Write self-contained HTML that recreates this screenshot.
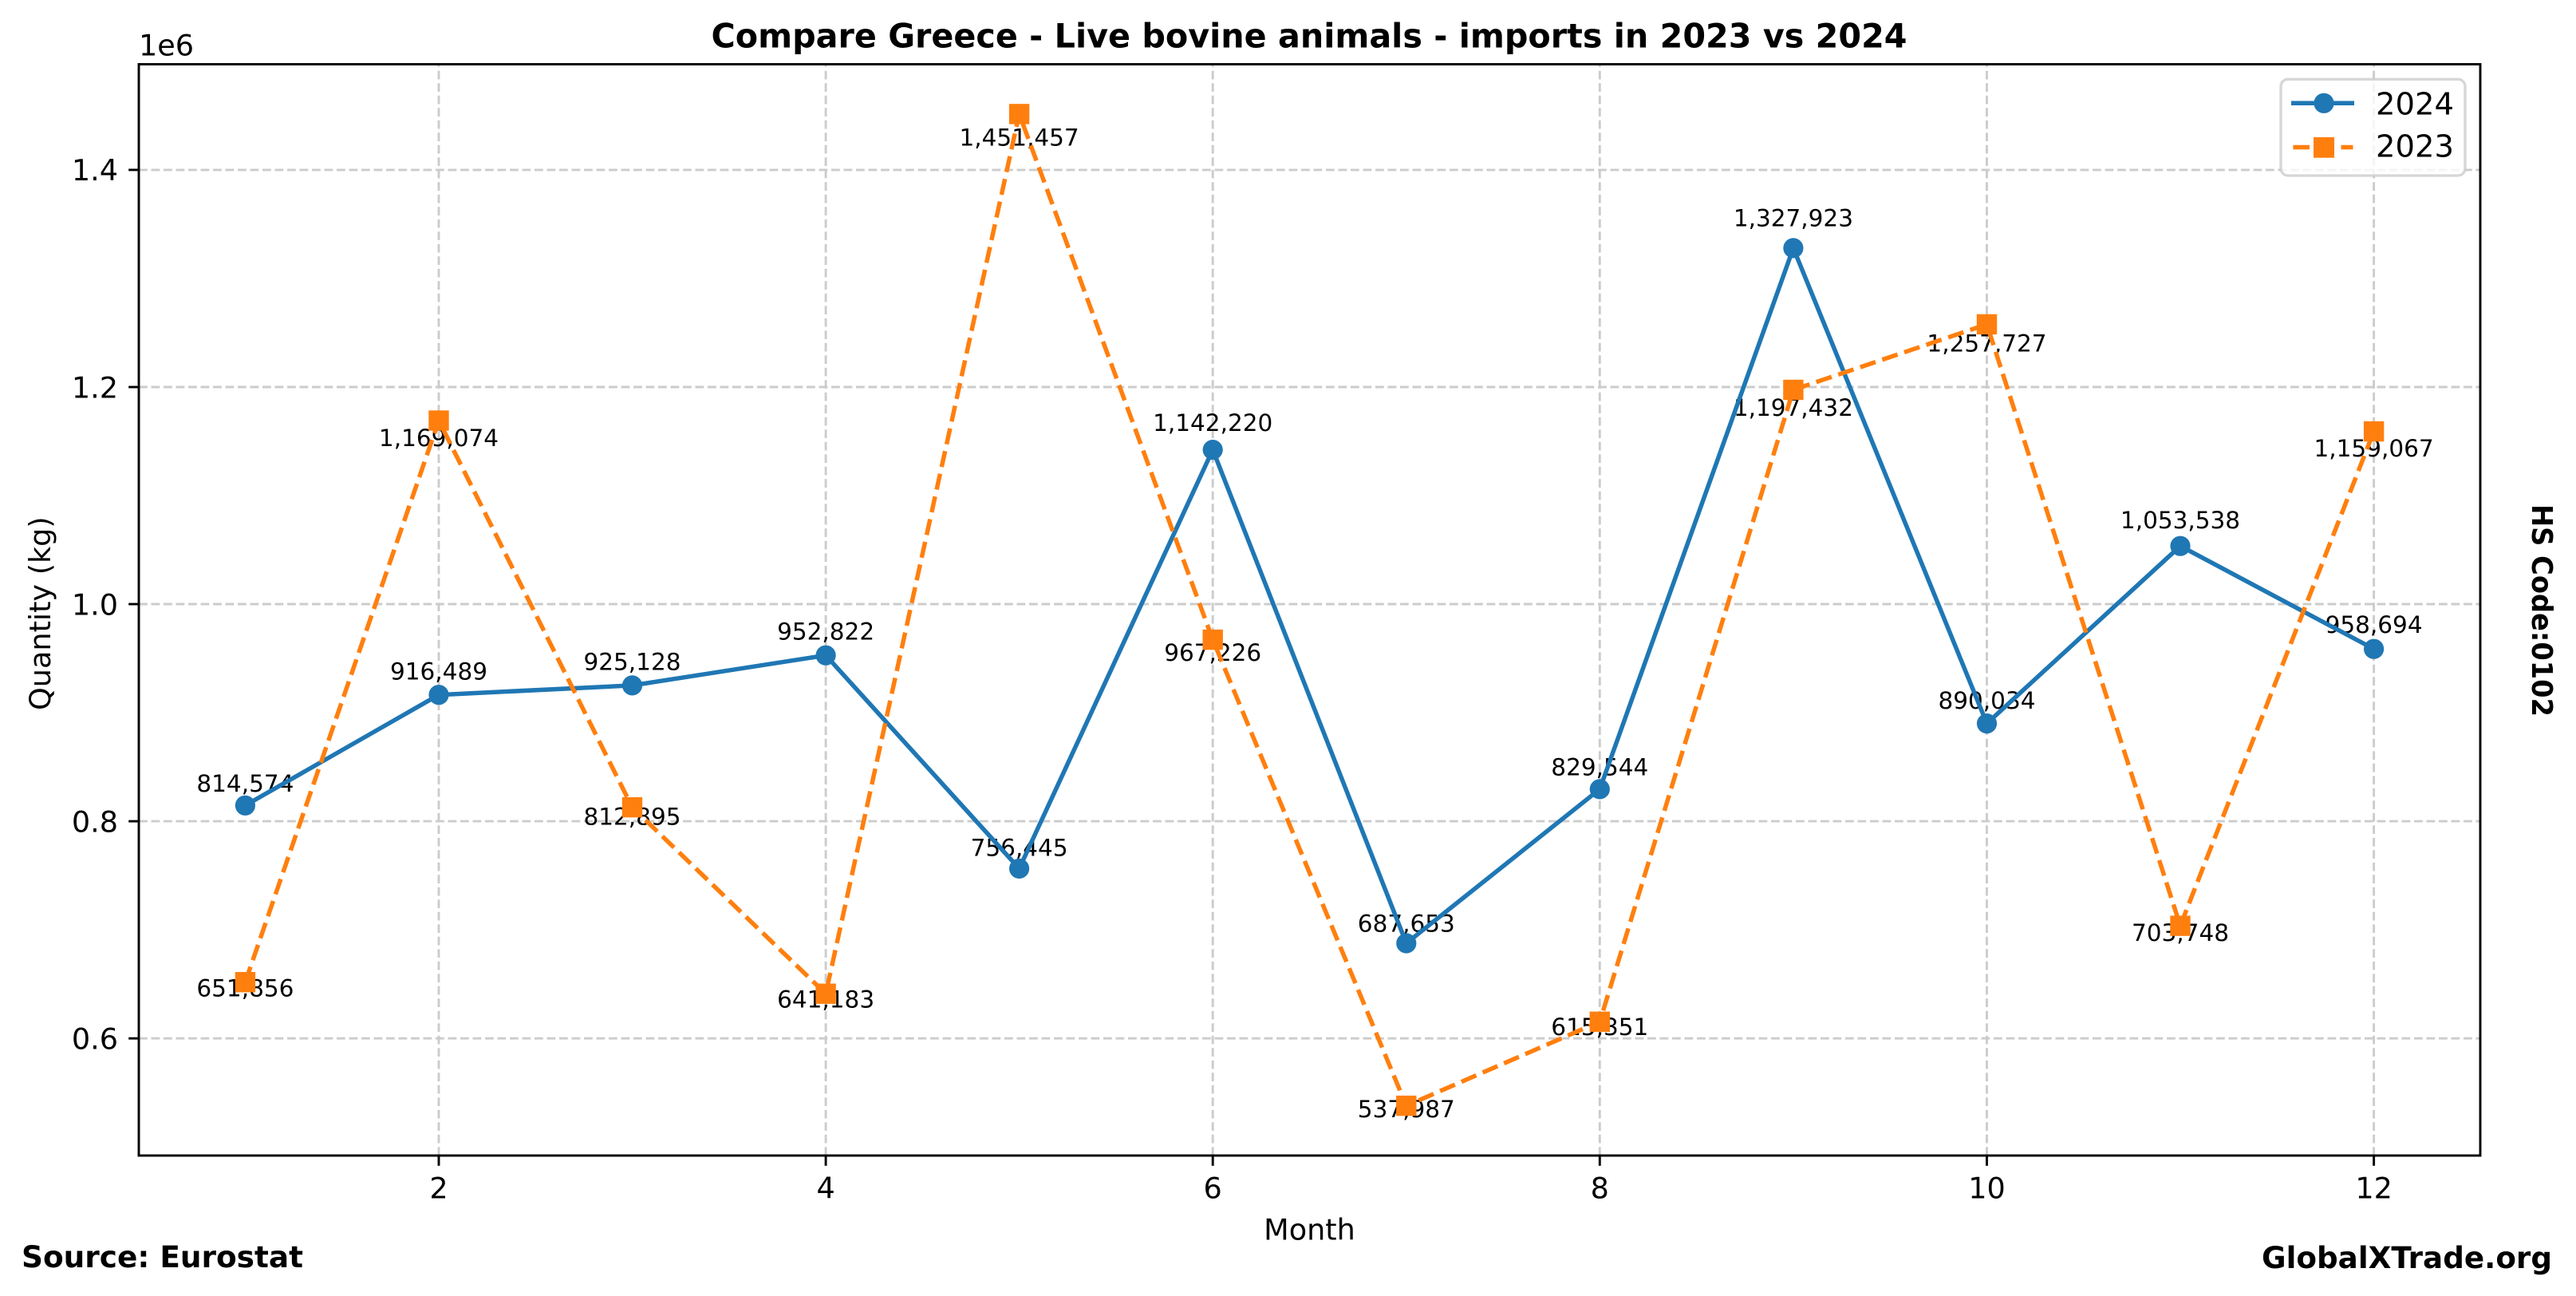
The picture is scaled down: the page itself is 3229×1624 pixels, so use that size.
<!DOCTYPE html>
<html>
<head>
<meta charset="utf-8">
<style>
html,body{margin:0;padding:0;background:#fff;}
svg{display:block;}
text{font-family:"DejaVu Sans","Liberation Sans",sans-serif;fill:#000;}
</style>
</head>
<body>
<svg width="3229" height="1624" viewBox="0 0 3229 1624" xmlns="http://www.w3.org/2000/svg">
<rect x="0" y="0" width="3229" height="1624" fill="#fff"/>

<!-- grid -->
<g stroke="#cccccc" stroke-width="2.9" stroke-dasharray="10.8 4.7" fill="none">
  <line x1="174" y1="1301.2" x2="3109" y2="1301.2"/>
  <line x1="174" y1="1029.1" x2="3109" y2="1029.1"/>
  <line x1="174" y1="757.0" x2="3109" y2="757.0"/>
  <line x1="174" y1="485.0" x2="3109" y2="485.0"/>
  <line x1="174" y1="212.9" x2="3109" y2="212.9"/>
  <line x1="550.0" y1="1448" x2="550.0" y2="80.5"/>
  <line x1="1035.1" y1="1448" x2="1035.1" y2="80.5"/>
  <line x1="1520.2" y1="1448" x2="1520.2" y2="80.5"/>
  <line x1="2005.3" y1="1448" x2="2005.3" y2="80.5"/>
  <line x1="2490.5" y1="1448" x2="2490.5" y2="80.5"/>
  <line x1="2975.6" y1="1448" x2="2975.6" y2="80.5"/>
</g>

<!-- data labels -->
<g font-size="29.5" text-anchor="middle">
  <text x="307.4" y="992.2">814,574</text>
  <text x="550.0" y="851.5">916,489</text>
  <text x="792.5" y="839.5">925,128</text>
  <text x="1035.1" y="801.3">952,822</text>
  <text x="1277.6" y="1072.5">756,445</text>
  <text x="1520.2" y="539.8">1,142,220</text>
  <text x="1762.8" y="1167.5">687,653</text>
  <text x="2005.3" y="971.5">829,544</text>
  <text x="2247.9" y="283.3">1,327,923</text>
  <text x="2490.5" y="887.9">890,034</text>
  <text x="2733.0" y="662.2">1,053,538</text>
  <text x="2975.6" y="793.1">958,694</text>

  <text x="307.4" y="1248.4">651,856</text>
  <text x="550.0" y="558.8">1,169,074</text>
  <text x="792.5" y="1033.7">812,895</text>
  <text x="1035.1" y="1262.6">641,183</text>
  <text x="1277.6" y="182.4">1,451,457</text>
  <text x="1520.2" y="827.9">967,226</text>
  <text x="1762.8" y="1400.2">537,987</text>
  <text x="2005.3" y="1297.0">615,351</text>
  <text x="2247.9" y="521.1">1,197,432</text>
  <text x="2490.5" y="440.6">1,257,727</text>
  <text x="2733.0" y="1179.2">703,748</text>
  <text x="2975.6" y="572.1">1,159,067</text>
</g>

<!-- 2024 series -->
<polyline fill="none" stroke="#1f77b4" stroke-width="5.5" stroke-linejoin="round" stroke-linecap="square"
  points="307.4,1009.3 550.0,870.7 792.5,858.9 1035.1,821.2 1277.6,1088.4 1520.2,563.6 1762.8,1182.0 2005.3,988.9 2247.9,310.9 2490.5,906.6 2733.0,684.2 2975.6,813.2"/>
<g fill="#1f77b4">
  <circle cx="307.4" cy="1009.3" r="12.6"/>
  <circle cx="550.0" cy="870.7" r="12.6"/>
  <circle cx="792.5" cy="858.9" r="12.6"/>
  <circle cx="1035.1" cy="821.2" r="12.6"/>
  <circle cx="1277.6" cy="1088.4" r="12.6"/>
  <circle cx="1520.2" cy="563.6" r="12.6"/>
  <circle cx="1762.8" cy="1182.0" r="12.6"/>
  <circle cx="2005.3" cy="988.9" r="12.6"/>
  <circle cx="2247.9" cy="310.9" r="12.6"/>
  <circle cx="2490.5" cy="906.6" r="12.6"/>
  <circle cx="2733.0" cy="684.2" r="12.6"/>
  <circle cx="2975.6" cy="813.2" r="12.6"/>
</g>

<!-- 2023 series -->
<polyline fill="none" stroke="#ff7f0e" stroke-width="5.5" stroke-linejoin="round" stroke-dasharray="20.3 8.8"
  points="307.4,1230.7 550.0,527.0 792.5,1011.6 1035.1,1245.2 1277.6,142.9 1520.2,801.6 1762.8,1385.6 2005.3,1280.3 2247.9,488.5 2490.5,406.4 2733.0,1160.1 2975.6,540.6"/>
<g fill="#ff7f0e">
  <rect x="294.7" y="1218.0" width="25.4" height="25.4"/>
  <rect x="537.3" y="514.3" width="25.4" height="25.4"/>
  <rect x="779.8" y="998.9" width="25.4" height="25.4"/>
  <rect x="1022.4" y="1232.5" width="25.4" height="25.4"/>
  <rect x="1264.9" y="130.2" width="25.4" height="25.4"/>
  <rect x="1507.5" y="788.9" width="25.4" height="25.4"/>
  <rect x="1750.1" y="1372.9" width="25.4" height="25.4"/>
  <rect x="1992.6" y="1267.6" width="25.4" height="25.4"/>
  <rect x="2235.2" y="475.8" width="25.4" height="25.4"/>
  <rect x="2477.8" y="393.7" width="25.4" height="25.4"/>
  <rect x="2720.3" y="1147.4" width="25.4" height="25.4"/>
  <rect x="2962.9" y="527.9" width="25.4" height="25.4"/>
</g>

<!-- spines -->
<rect x="174" y="80.5" width="2935" height="1367.5" fill="none" stroke="#000" stroke-width="2.9"/>

<!-- ticks -->
<g stroke="#000" stroke-width="2.9">
  <line x1="161.2" y1="1301.2" x2="174" y2="1301.2"/>
  <line x1="161.2" y1="1029.1" x2="174" y2="1029.1"/>
  <line x1="161.2" y1="757.0" x2="174" y2="757.0"/>
  <line x1="161.2" y1="485.0" x2="174" y2="485.0"/>
  <line x1="161.2" y1="212.9" x2="174" y2="212.9"/>
  <line x1="550.0" y1="1448" x2="550.0" y2="1460.8"/>
  <line x1="1035.1" y1="1448" x2="1035.1" y2="1460.8"/>
  <line x1="1520.2" y1="1448" x2="1520.2" y2="1460.8"/>
  <line x1="2005.3" y1="1448" x2="2005.3" y2="1460.8"/>
  <line x1="2490.5" y1="1448" x2="2490.5" y2="1460.8"/>
  <line x1="2975.6" y1="1448" x2="2975.6" y2="1460.8"/>
</g>

<!-- tick labels -->
<g font-size="36.6" text-anchor="end">
  <text x="148" y="1314.5">0.6</text>
  <text x="148" y="1042.4">0.8</text>
  <text x="148" y="770.3">1.0</text>
  <text x="148" y="498.3">1.2</text>
  <text x="148" y="226.2">1.4</text>
</g>
<g font-size="36.6" text-anchor="middle">
  <text x="550.0" y="1501.7">2</text>
  <text x="1035.1" y="1501.7">4</text>
  <text x="1520.2" y="1501.7">6</text>
  <text x="2005.3" y="1501.7">8</text>
  <text x="2490.5" y="1501.7">10</text>
  <text x="2975.6" y="1501.7">12</text>
</g>

<text x="174" y="69.3" font-size="36.6">1e6</text>

<!-- axis labels -->
<text x="1641.5" y="1553.3" font-size="36.6" text-anchor="middle">Month</text>
<text transform="translate(63,890) rotate(-90)" font-size="36.6" text-anchor="start">Quantity (kg)</text>

<!-- title -->
<text x="1641" y="59.3" font-size="42" font-weight="bold" text-anchor="middle" textLength="1499" lengthAdjust="spacingAndGlyphs">Compare Greece - Live bovine animals - imports in 2023 vs 2024</text>

<!-- legend -->
<rect x="2859" y="99.3" width="231" height="120.7" rx="9" ry="9" fill="#ffffff" fill-opacity="0.8" stroke="#cccccc" stroke-opacity="0.8" stroke-width="3.3"/>
<line x1="2872" y1="129.3" x2="2951" y2="129.3" stroke="#1f77b4" stroke-width="5.5"/>
<circle cx="2913" cy="129.3" r="12.6" fill="#1f77b4"/>
<line x1="2874.4" y1="184.5" x2="2895" y2="184.5" stroke="#ff7f0e" stroke-width="5.5"/>
<line x1="2934.5" y1="184.5" x2="2949.5" y2="184.5" stroke="#ff7f0e" stroke-width="5.5"/>
<rect x="2900" y="172" width="26" height="25.7" fill="#ff7f0e"/>
<text x="2978" y="143.3" font-size="38.5">2024</text>
<text x="2978" y="196.7" font-size="38.5">2023</text>

<!-- footer texts -->
<text x="27" y="1588" font-size="37" font-weight="bold" textLength="353" lengthAdjust="spacingAndGlyphs">Source: Eurostat</text>
<text x="3199" y="1589" font-size="37" font-weight="bold" text-anchor="end" textLength="364" lengthAdjust="spacingAndGlyphs">GlobalXTrade.org</text>
<text transform="translate(3174,765) rotate(90)" font-size="35.5" font-weight="bold" text-anchor="middle" textLength="266" lengthAdjust="spacingAndGlyphs">HS Code:0102</text>
</svg>
</body>
</html>
